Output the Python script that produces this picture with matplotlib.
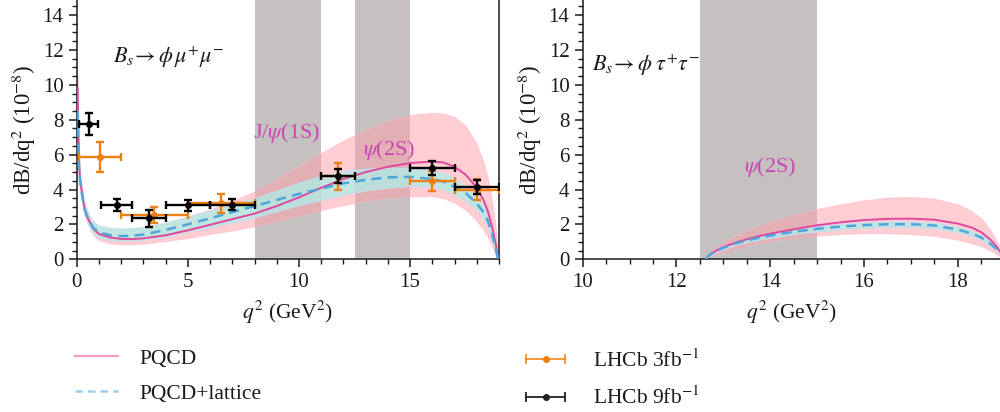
import matplotlib
matplotlib.use("Agg")
import matplotlib.pyplot as plt
from matplotlib.lines import Line2D
from matplotlib.legend_handler import HandlerLine2D, HandlerTuple
from matplotlib.ticker import MultipleLocator

plt.rcParams['font.family'] = ['Liberation Serif', 'DejaVu Serif']
plt.rcParams['mathtext.fontset'] = 'stix'

# ---------------- data: B_s -> phi mu mu ----------------
q_mu = [0.045, 0.06, 0.1, 0.15, 0.25, 0.35, 0.5, 0.75, 1.0, 1.5, 2.0, 2.5, 3.0, 4.0,
        5.0, 6.0, 7.0, 8.0, 9.0, 10.0, 11.0, 12.0, 13.0, 14.0, 15.0, 16.0, 16.5,
        17.0, 17.5, 18.0, 18.3, 18.5, 18.7, 18.85, 18.95]
pqcd_mu = [9.8, 8.0, 5.6, 4.6, 3.7, 2.9, 2.35, 1.75, 1.45, 1.25, 1.17, 1.16, 1.2, 1.38,
           1.66, 1.98, 2.3, 2.62, 3.05, 3.55, 4.1, 4.6, 5.0, 5.3, 5.52, 5.6, 5.55,
           5.3, 4.85, 4.1, 3.4, 2.75, 1.8, 0.9, 0.1]
latt_mu = [8.5, 7.5, 5.4, 4.5, 3.6, 2.9, 2.35, 1.8, 1.55, 1.38, 1.33, 1.35, 1.42, 1.68,
           2.0, 2.35, 2.7, 3.05, 3.4, 3.75, 4.05, 4.35, 4.55, 4.7, 4.73, 4.6, 4.45,
           4.15, 3.8, 3.2, 2.7, 2.2, 1.4, 0.6, 0.05]
pqcd_mu_hi = [10.5, 8.6, 6.0, 5.0, 4.0, 3.2, 2.7, 2.1, 1.85, 1.72, 1.7, 1.73, 1.8, 2.05,
              2.45, 2.85, 3.35, 3.9, 4.6, 5.35, 6.1, 6.8, 7.4, 7.95, 8.27, 8.4, 8.35,
              8.15, 7.65, 6.6, 5.6, 4.6, 3.2, 1.8, 0.5]
pqcd_mu_lo = [9.0, 7.3, 5.0, 4.1, 3.3, 2.55, 2.0, 1.4, 1.1, 0.92, 0.86, 0.87, 0.9, 1.05,
              1.22, 1.45, 1.65, 1.9, 2.2, 2.5, 2.83, 3.1, 3.35, 3.52, 3.6, 3.62, 3.5,
              3.25, 2.85, 2.2, 1.7, 1.3, 0.75, 0.3, 0.0]
latt_mu_hi = [8.8, 7.8, 5.7, 4.8, 3.9, 3.2, 2.65, 2.15, 1.95, 1.8, 1.77, 1.8, 1.85, 2.1,
              2.45, 2.8, 3.15, 3.5, 3.95, 4.4, 4.8, 5.05, 5.2, 5.25, 5.25, 5.1, 4.95,
              4.65, 4.2, 3.6, 3.05, 2.5, 1.65, 0.75, 0.1]
latt_mu_lo = [8.2, 7.2, 5.1, 4.2, 3.3, 2.6, 2.05, 1.5, 1.25, 1.1, 1.07, 1.08, 1.12, 1.3,
              1.6, 1.85, 2.1, 2.4, 2.75, 3.1, 3.4, 3.7, 3.95, 4.1, 4.2, 4.15, 4.0,
              3.7, 3.35, 2.85, 2.35, 1.9, 1.15, 0.45, 0.0]

# LHCb 3 fb^-1
l3_q = [1.05, 3.5, 6.5, 11.75, 16.0, 18.0]
l3_qlo = [0.1, 2.0, 5.0, 11.0, 15.0, 17.0]
l3_qhi = [2.0, 5.0, 8.0, 12.5, 17.0, 19.0]
l3_v = [5.85, 2.55, 3.2, 4.75, 4.5, 4.0]
l3_e = [0.85, 0.46, 0.52, 0.77, 0.58, 0.62]
# LHCb 9 fb^-1
l9_q = [0.54, 1.8, 3.25, 5.0, 7.0, 11.75, 16.0, 18.0]
l9_qlo = [0.1, 1.1, 2.5, 4.0, 6.0, 11.0, 15.0, 17.0]
l9_qhi = [0.98, 2.5, 4.0, 6.0, 8.0, 12.5, 17.0, 19.0]
l9_v = [7.75, 3.12, 2.35, 3.1, 3.12, 4.77, 5.22, 4.14]
l9_e = [0.62, 0.35, 0.5, 0.32, 0.31, 0.4, 0.41, 0.38]

# ---------------- data: B_s -> phi tau tau ----------------
q_tau = [12.63, 12.7, 12.85, 13.0, 13.25, 13.5, 13.75, 14.0, 14.5, 15.0, 15.5, 16.0,
         16.5, 17.0, 17.5, 18.0, 18.3, 18.5, 18.7, 18.8, 18.9]
pqcd_tau = [0, 0.25, 0.5, 0.7, 0.95, 1.15, 1.32, 1.47, 1.72, 1.95, 2.12, 2.25, 2.32,
            2.33, 2.27, 2.05, 1.82, 1.55, 1.12, 0.82, 0.44]
latt_tau = [0, 0.24, 0.48, 0.66, 0.9, 1.08, 1.23, 1.36, 1.58, 1.75, 1.88, 1.96, 2.01,
            2.01, 1.94, 1.7, 1.48, 1.25, 0.88, 0.65, 0.35]
pqcd_tau_hi = [0, 0.35, 0.7, 0.98, 1.35, 1.65, 1.92, 2.15, 2.55, 2.88, 3.15, 3.38, 3.53,
               3.57, 3.48, 3.15, 2.75, 2.35, 1.65, 1.2, 0.6]
pqcd_tau_lo = [0, 0.15, 0.3, 0.42, 0.6, 0.78, 0.92, 1.05, 1.22, 1.36, 1.45, 1.5, 1.5,
               1.45, 1.35, 1.12, 0.92, 0.75, 0.5, 0.35, 0.15]
latt_tau_hi = [0, 0.3, 0.56, 0.76, 1.0, 1.2, 1.36, 1.5, 1.73, 1.91, 2.04, 2.12, 2.17,
               2.17, 2.1, 1.85, 1.62, 1.38, 1.0, 0.75, 0.42]
latt_tau_lo = [0, 0.18, 0.4, 0.56, 0.8, 0.96, 1.1, 1.22, 1.43, 1.59, 1.72, 1.8, 1.85,
               1.85, 1.78, 1.55, 1.34, 1.12, 0.76, 0.55, 0.28]

veto_mu = [(8.0, 11.0), (12.5, 15.0)]
veto_tau = [(12.5, 15.0)]

C_PINK = '#e0479e'
C_PINK_BAND = '#ff9fa8'
C_TEAL_BAND = '#b2ebe4'
C_BLUE = '#4fa6dc'
C_GRAY = '#c6c1c1'
C_ORANGE = '#f07f12'
C_LABEL = '#cc44b4'
C_TEXT = '#1a1a1a'

fig = plt.figure(figsize=(10, 4.12), dpi=100)
ax1 = fig.add_axes([0.0767, 0.3706, 0.4223, 0.6294])
ax2 = fig.add_axes([0.5827, 0.3706, 0.4173, 0.6294])


def draw_theory(ax, q, pq, lt, pq_hi, pq_lo, lt_hi, lt_lo, vetoes):
    for a, b in vetoes:
        ax.axvspan(a, b, color=C_GRAY, lw=0, zorder=0)
    ax.fill_between(q, pq_lo, pq_hi, color=C_PINK_BAND, alpha=0.5, lw=0.8,
                    edgecolor='#ffb0c8', zorder=1)
    ax.fill_between(q, lt_lo, lt_hi, color=C_TEAL_BAND, alpha=0.8, lw=0.8,
                    edgecolor='#c8dcf0', zorder=2)
    ax.plot(q, pq, color=C_PINK, lw=1.4, zorder=3)
    ax.plot(q, lt, color=C_BLUE, lw=1.8, ls=(0, (4, 2.5)), zorder=4)


draw_theory(ax1, q_mu, pqcd_mu, latt_mu, pqcd_mu_hi, pqcd_mu_lo, latt_mu_hi, latt_mu_lo, veto_mu)
draw_theory(ax2, q_tau, pqcd_tau, latt_tau, pqcd_tau_hi, pqcd_tau_lo, latt_tau_hi, latt_tau_lo, veto_tau)

xe3 = [[c - lo for c, lo in zip(l3_q, l3_qlo)], [hi - c for c, hi in zip(l3_q, l3_qhi)]]
xe9 = [[c - lo for c, lo in zip(l9_q, l9_qlo)], [hi - c for c, hi in zip(l9_q, l9_qhi)]]
ax1.errorbar(l3_q, l3_v, xerr=xe3, yerr=l3_e, fmt='o', color=C_ORANGE, ms=4,
             lw=1.7, capsize=3, capthick=1.7, zorder=5)
ax1.errorbar(l9_q, l9_v, xerr=xe9, yerr=l9_e, fmt='o', color='black', ms=4,
             lw=1.7, capsize=3, capthick=1.7, zorder=6)

# annotations
ax1.text(9.45, 7.25, r'J/$\psi$(1S)', color=C_LABEL, fontsize=16, ha='center', va='center')
ax1.text(14.05, 6.25, r'$\psi$(2S)', color=C_LABEL, fontsize=16, ha='center', va='center')
ax2.text(14.0, 5.3, r'$\psi$(2S)', color=C_LABEL, fontsize=16, ha='center', va='center')
ax1.text(1.65, 11.6, r'$B_s\!\rightarrow\phi\,\mu^{+}\mu^{-}$', fontsize=16,
         ha='left', va='center', color=C_TEXT)
ax2.text(10.2, 11.1, r'$B_s\!\rightarrow\phi\;\tau^{+}\tau^{-}$', fontsize=16,
         ha='left', va='center', color=C_TEXT)

for ax, xl, xmaj, xmin in [(ax1, (0, 19.0), 5, 1), (ax2, (10, 18.9), 2, 0.5)]:
    ax.set_xlim(*xl)
    ax.set_ylim(0, 14.86)
    ax.xaxis.set_major_locator(MultipleLocator(xmaj))
    ax.xaxis.set_minor_locator(MultipleLocator(xmin))
    ax.yaxis.set_major_locator(MultipleLocator(2))
    ax.yaxis.set_minor_locator(MultipleLocator(0.5))
    ax.tick_params(which='major', length=6, width=1.1, labelsize=15,
                   color=C_TEXT, labelcolor=C_TEXT)
    ax.tick_params(which='minor', length=3.5, width=1.0, color=C_TEXT)
    ax.spines['top'].set_visible(False)
    for s in ax.spines.values():
        s.set_linewidth(1.1)
        s.set_color(C_TEXT)
    ax.set_xlabel(r'$q^2$ (GeV$^2$)', fontsize=15.5, labelpad=5, color=C_TEXT)
    ax.set_ylabel(r'dB/dq$^2$ (10$^{-8}$)', fontsize=16.5, labelpad=3, color=C_TEXT)
ax2.spines['right'].set_visible(False)

# legends
h_pqcd = Line2D([], [], color='#f49ac6', lw=1.6)
h_latt = Line2D([], [], color='#9ccfea', lw=1.8, ls=(0, (3, 2)))
fig.legend([h_pqcd, h_latt], ['PQCD', 'PQCD+lattice'], loc='center left',
           bbox_to_anchor=(0.075, 0.087), frameon=False, fontsize=15.5, handlelength=2.0,
           handletextpad=1.0, labelspacing=0.7, borderpad=0, borderaxespad=0,
           labelcolor=C_TEXT)

cap3 = Line2D([], [], color=C_ORANGE, lw=1.3, marker='|', ms=7, mew=1.3, alpha=0.85)
dot3 = Line2D([], [], color=C_ORANGE, ls='none', marker='o', ms=4)
cap9 = Line2D([], [], color='#222222', lw=1.3, marker='|', ms=7, mew=1.3)
dot9 = Line2D([], [], color='#222222', ls='none', marker='o', ms=4)
hmap = {cap3: HandlerLine2D(numpoints=2), cap9: HandlerLine2D(numpoints=2),
        dot3: HandlerLine2D(numpoints=1), dot9: HandlerLine2D(numpoints=1),
        tuple: HandlerTuple(ndivide=1, pad=0)}
fig.legend([(cap3, dot3), (cap9, dot9)], [r'LHCb 3fb$^{-1}$', r'LHCb 9fb$^{-1}$'],
           loc='center left', handler_map=hmap,
           bbox_to_anchor=(0.52, 0.079), frameon=False, fontsize=15.5, handlelength=2.4,
           handletextpad=1.0, labelspacing=0.7, borderpad=0, borderaxespad=0,
           labelcolor=C_TEXT)

fig.savefig('out.png', dpi=100)
